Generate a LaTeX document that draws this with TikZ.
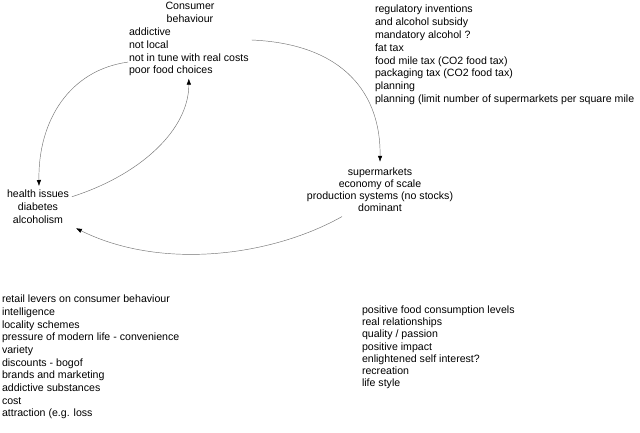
\documentclass[tikz,border=0pt]{standalone}
\usepackage{fontspec}
\setmainfont{Liberation Sans}
\usetikzlibrary{arrows.meta,calc}
\tikzset{
  txt/.style={inner sep=0pt, outer sep=0pt, font=\fontsize{10.6}{12.8}\selectfont, text=black},
  conn/.style={draw=black!55, line width=0.45pt, -{Latex[length=6pt,width=4.5pt,color=black]}},
}
\begin{document}
\begin{tikzpicture}[x=1pt,y=-1pt]
\useasboundingbox (0,0) rectangle (640,432);
% consumer behaviour
\node[txt, anchor=north, align=center] (A) at (190,1.8) {Consumer\\behaviour};
\node[txt, anchor=north west, align=left] (B) at (129,27.8)
  {addictive\\not local\\not in tune with real costs\\poor food choices};
% regulatory
\node[txt, anchor=north west, align=left, font=\fontsize{10.6}{12.9}\selectfont] (C) at (375,4.8)
  {regulatory inventions\\and alcohol subsidy\\mandatory alcohol ?\\fat tax\\food mile tax (CO2 food tax)\\packaging tax (CO2 food tax)\\planning\\planning (limit number of supermarkets per square mile};
% supermarkets
\node[txt, anchor=north, align=center, font=\fontsize{10.6}{12}\selectfont] (D) at (380,167.8)
  {supermarkets\\economy of scale\\production systems (no stocks)\\dominant};
% health
\node[txt, anchor=north, align=center] (E) at (38,190.3)
  {health issues\\diabetes\\alcoholism};
% bottom left
\node[txt, anchor=north west, align=left, font=\fontsize{10.6}{12.67}\selectfont] (F) at (2,295.1)
  {retail levers on consumer behaviour\\intelligence\\locality schemes\\pressure of modern life - convenience\\variety\\discounts - bogof\\brands and marketing\\addictive substances\\cost\\attraction (e.g. loss};
% bottom right
\node[txt, anchor=north west, align=left, font=\fontsize{10.6}{12.2}\selectfont] (G) at (362,305.8)
  {positive food consumption levels\\real relationships\\quality / passion\\positive impact\\enlightened self interest?\\recreation\\life style};
% connectors
\draw[conn] ($(B.north east)+(3,12.2)$) .. controls (345,44) and (381,95) .. ($(D.north)+(0,-6)$);
\draw[conn] ($(B.south west)+(-1,-14)$) .. controls (70,70) and (38,120) .. ($(E.north)+(1,-4.3)$);
\draw[conn] ($(E.north east)+(3,6.4)$) .. controls (140,175) and (189,130) .. ($(B.south)+(0,2.5)$);
\draw[conn] ($(D.south)+(-38,5)$) .. controls (270,257) and (160,270) .. ($(E.south east)+(7,4.5)$);
\end{tikzpicture}
\end{document}
